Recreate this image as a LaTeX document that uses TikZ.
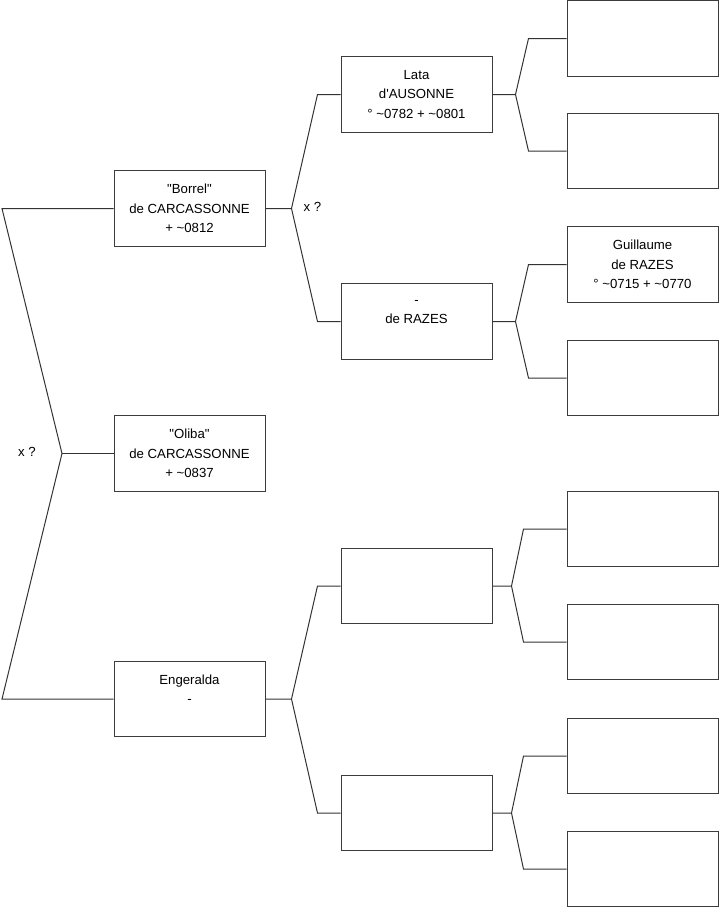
\documentclass[tikz,border=0pt]{standalone}
\usepackage{fontspec}
\setmainfont{Liberation Sans}
\usepackage{tikz}
\usetikzlibrary{calc}
\definecolor{treeLine}{HTML}{333333}
\definecolor{treeBox}{HTML}{3C3C3C}
\tikzset{
  person/.style={draw=treeBox, line width=1pt, fill=white,
    minimum width=151pt, minimum height=75.5pt, inner sep=0pt,
    align=center, font=\fontsize{13.2}{19.5}\selectfont},
  link/.style={draw=treeLine, line width=1pt, line join=miter},
  guess/.style={font=\fontsize{13.2}{15}\selectfont, inner sep=0pt}
}

\begin{document}
\begin{tikzpicture}[x=1pt, y=-1pt]
  \useasboundingbox (0,0) rectangle (719,908);
  % first generation
  \node[person] (borrel) at (189.5,208.5) {\textquotedbl Borrel\textquotedbl\\de CARCASSONNE\\+ \textasciitilde0812};
  \node[person] (oliba) at (189.5,453.5) {\textquotedbl Oliba\textquotedbl\\de CARCASSONNE\\+ \textasciitilde0837};
  \node[person] (engeralda) at (189.5,699) {Engeralda\\-\\\mbox{}};
  % second generation
  \node[person] (lata) at (416.5,94.5) {Lata\\d\textquotesingle AUSONNE\\° \textasciitilde0782 + \textasciitilde0801};
  \node[person] (razes) at (416.5,321.5) {-\\de RAZES\\\mbox{}};
  \node[person] (e1) at (416.5,586) {};
  \node[person] (e2) at (416.5,813) {};
  % third generation
  \node[person] (g1) at (642.5,38.5) {};
  \node[person] (g2) at (642.5,151) {};
  \node[person] (g3) at (642.5,264.5) {Guillaume\\de RAZES\\° \textasciitilde0715 + \textasciitilde0770};
  \node[person] (g4) at (642.5,378) {};
  \node[person] (g5) at (642.5,529) {};
  \node[person] (g6) at (642.5,642) {};
  \node[person] (g7) at (642.5,756) {};
  \node[person] (g8) at (642.5,869) {};
  % root fork
  \coordinate (rootTop) at (2,208.5);
  \coordinate (root) at (62,453.5);
  \coordinate (rootBot) at (2,699);
  \draw[link] (borrel.west) -- (rootTop) -- (root) -- (rootBot) -- (engeralda.west);
  \draw[link] (root) -- (oliba.west);
  \node[guess] (xroot) at (27,452) {x ?};
  % forks to the second generation
  \foreach \c/\a/\b in {borrel/lata/razes, engeralda/e1/e2} {
    \coordinate (hub-\c) at ($(\c.east)+(26,0)$);
    \draw[link] (\c.east) -- (hub-\c) -- ([xshift=-23pt]\a.west) -- (\a.west);
    \draw[link] (hub-\c) -- ([xshift=-23pt]\b.west) -- (\b.west);
  }
  \node[guess] (xborrel) at (312.5,207) {x ?};
  % forks to the third generation
  \foreach \c/\a/\b/\h/\d in {lata/g1/g2/23/38, razes/g3/g4/23/38,
                              e1/g5/g6/19/43, e2/g7/g8/19/43} {
    \coordinate (hub-\c) at ($(\c.east)+(\h,0)$);
    \draw[link] (\c.east) -- (hub-\c) -- ([xshift=-\d pt]\a.west) -- (\a.west);
    \draw[link] (hub-\c) -- ([xshift=-\d pt]\b.west) -- (\b.west);
  }
\end{tikzpicture}
\end{document}
